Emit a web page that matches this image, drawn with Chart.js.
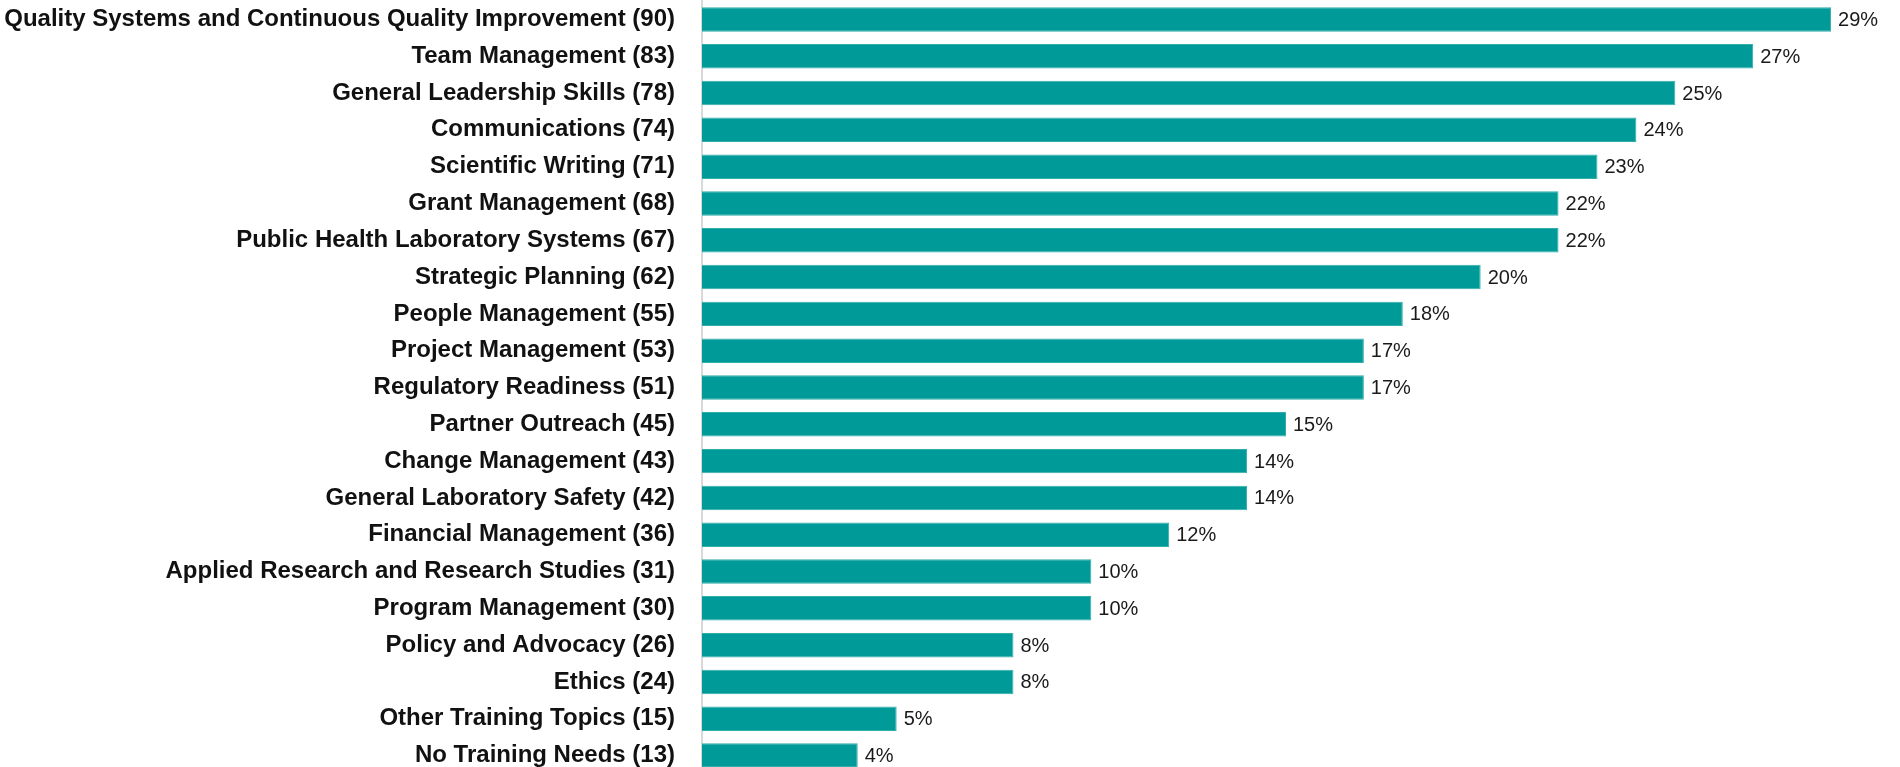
<!DOCTYPE html>
<html>
<head>
<meta charset="utf-8">
<script src="https://cdn.jsdelivr.net/npm/chart.js@4"></script>
<style>
  html, body { margin: 0; padding: 0; background: #ffffff; overflow: hidden; }
  #wrap { position: relative; width: 1900px; height: 774px; }
</style>
</head>
<body>
<div id="wrap"><canvas id="c"></canvas></div>
<script>
const topics = [
  "Quality Systems and Continuous Quality Improvement",
  "Team Management",
  "General Leadership Skills",
  "Communications",
  "Scientific Writing",
  "Grant Management",
  "Public Health Laboratory Systems",
  "Strategic Planning",
  "People Management",
  "Project Management",
  "Regulatory Readiness",
  "Partner Outreach",
  "Change Management",
  "General Laboratory Safety",
  "Financial Management",
  "Applied Research and Research Studies",
  "Program Management",
  "Policy and Advocacy",
  "Ethics",
  "Other Training Topics",
  "No Training Needs"
];
const counts = [90, 83, 78, 74, 71, 68, 67, 62, 55, 53, 51, 45, 43, 42, 36, 31, 30, 26, 24, 15, 13];
const percents = [29, 27, 25, 24, 23, 22, 22, 20, 18, 17, 17, 15, 14, 14, 12, 10, 10, 8, 8, 5, 4];

const labels = topics.map((t, i) => t + " (" + counts[i] + ")");

const valueLabels = {
  id: 'valueLabels',
  afterDatasetsDraw(chart) {
    const ctx = chart.ctx;
    const meta = chart.getDatasetMeta(0);
    ctx.save();
    ctx.font = '20px "Liberation Sans", Arial, sans-serif';
    ctx.fillStyle = '#1a1a1a';
    ctx.textAlign = 'left';
    ctx.textBaseline = 'middle';
    meta.data.forEach((bar, i) => {
      ctx.fillText(percents[i] + '%', bar.x + 7, bar.y + 1);
    });
    ctx.restore();
  }
};

new Chart(document.getElementById('c'), {
  type: 'bar',
  data: {
    labels: labels,
    datasets: [{
      data: percents,
      backgroundColor: '#009A98',
      borderColor: '#33ADAB',
      borderWidth: 1,
      barPercentage: 0.665,
      categoryPercentage: 1.0
    }]
  },
  options: {
    indexAxis: 'y',
    responsive: true,
    maintainAspectRatio: false,
    devicePixelRatio: 1,
    animation: false,
    layout: { padding: { top: 1, right: 30, bottom: 0, left: 0 } },
    plugins: { legend: { display: false }, tooltip: { enabled: false } },
    scales: {
      x: {
        display: false,
        min: 0,
        max: 30
      },
      y: {
        afterFit(scale) {
          scale.width = 702;
          scale.paddingTop = 0;
          scale.paddingBottom = 0;
        },
        grid: { display: false },
        border: { display: true, color: '#d9d9d9', width: 2 },
        ticks: {
          color: '#111111',
          padding: 19,
          autoSkip: false,
          font: { family: '"Liberation Sans", Arial, sans-serif', size: 24, weight: 'bold' }
        }
      }
    }
  },
  plugins: [valueLabels]
});
</script>
</body>
</html>
